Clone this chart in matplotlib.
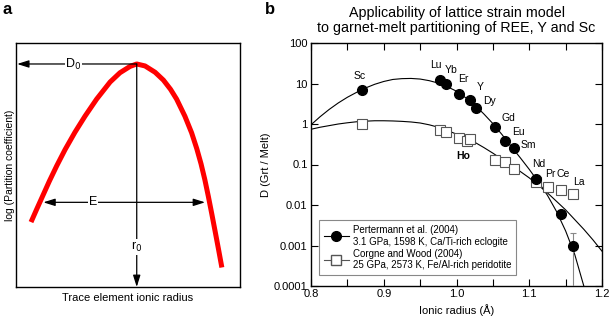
import matplotlib
matplotlib.use("Agg")
import matplotlib.pyplot as plt

plt.rcParams['font.family'] = ['Liberation Sans', 'DejaVu Sans']

# ---------------- data ----------------
# panel a: schematic lattice-strain curve (axes-fraction units)
schem_x = [0.067, 0.092, 0.119, 0.149, 0.182, 0.219, 0.263, 0.308, 0.360, 0.420,
           0.464, 0.509, 0.539, 0.576, 0.621, 0.658, 0.690, 0.717, 0.754, 0.784,
           0.807, 0.826, 0.843, 0.859, 0.874, 0.889, 0.904, 0.919]
schem_y = [0.266, 0.318, 0.373, 0.434, 0.497, 0.563, 0.634, 0.700, 0.770, 0.840,
           0.878, 0.904, 0.914, 0.906, 0.880, 0.848, 0.810, 0.770, 0.700, 0.632,
           0.567, 0.505, 0.440, 0.370, 0.300, 0.228, 0.155, 0.080]
peak_x, peak_y = 0.539, 0.914
E_left, E_right, E_y = 0.122, 0.844, 0.347

# panel b: Pertermann et al. (2004)
pert_el = ['Sc', 'Lu', 'Yb', 'Er', 'Y', 'Dy', 'Gd', 'Eu', 'Sm', 'Nd', 'Ce', 'La']
pert_r = [0.870, 0.977, 0.985, 1.004, 1.019, 1.027, 1.053, 1.066, 1.079, 1.109, 1.143, 1.160]
pert_D = [7.1, 12.0, 9.6, 5.6, 3.9, 2.5, 0.83, 0.37, 0.25, 0.045, 0.006, 0.001]
pert_err_hi = [0, 0, 0, 0, 0, 0, 0, 0, 0, 0, 0, 0.001]
pert_err_lo = [0, 0, 0, 0, 0, 0, 0, 0, 0, 0, 0, 0.000999]

# panel b: Corgne and Wood (2004)
corg_el = ['Sc', 'Lu', 'Yb', 'Er', 'Ho', 'Y', 'Gd', 'Eu', 'Sm', 'Nd', 'Pr', 'Ce', 'La']
corg_r = [0.870, 0.977, 0.985, 1.004, 1.015, 1.019, 1.053, 1.066, 1.079, 1.109, 1.126, 1.143, 1.160]
corg_D = [1.0, 0.72, 0.63, 0.45, 0.37, 0.43, 0.13, 0.115, 0.078, 0.037, 0.028, 0.023, 0.019]

# model fit curves (log10 D)
fit_r = [0.8000, 0.8125, 0.8250, 0.8375, 0.8500, 0.8625, 0.8750, 0.8875, 0.9000,
         0.9125, 0.9250, 0.9375, 0.9500, 0.9625, 0.9750, 0.9875, 1.0000, 1.0125,
         1.0250, 1.0375, 1.0500, 1.0625, 1.0750, 1.0875, 1.1000, 1.1125, 1.1250,
         1.1375, 1.1500, 1.1625, 1.1750, 1.1875, 1.2000]
pert_fit_logD = [-0.02, 0.18, 0.36, 0.52, 0.66, 0.78, 0.89, 0.98, 1.05,
                 1.10, 1.12, 1.125, 1.11, 1.07, 1.01, 0.92, 0.81, 0.65,
                 0.47, 0.25, 0.01, -0.26, -0.55, -0.83, -1.12, -1.43, -1.76,
                 -2.16, -2.64, -3.22, -4.00, -4.80, -5.60]
corg_fit_logD = [-0.13, -0.08, -0.04, 0.00, 0.03, 0.055, 0.07, 0.08, 0.08,
                 0.075, 0.065, 0.05, 0.025, -0.02, -0.08, -0.16, -0.25, -0.35,
                 -0.45, -0.58, -0.72, -0.87, -1.02, -1.17, -1.33, -1.51, -1.70,
                 -1.91, -2.12, -2.36, -2.60, -2.86, -3.14]

# ---------------- figure ----------------
fig = plt.figure(figsize=(6.09, 3.22), dpi=100)

# ---- panel a ----
axa = fig.add_axes([16/609, 35/322, 224/609, 244/322])
axa.set_xlim(0, 1)
axa.set_ylim(0, 1)
axa.set_xticks([])
axa.set_yticks([])
for s in axa.spines.values():
    s.set_linewidth(1.0)
axa.plot(schem_x, schem_y, color='#ff0000', lw=3.6, solid_capstyle='butt',
         solid_joinstyle='round', zorder=3)

arrow_kw = dict(arrowstyle='-|>,head_length=0.7,head_width=0.22', color='black', lw=0.9,
                shrinkA=0, shrinkB=0)
# D0 arrow
axa.annotate('', xy=(0.005, peak_y), xytext=(peak_x, peak_y), arrowprops=arrow_kw)
axa.text(0.256, peak_y, r'D$_0$', ha='center', va='center', fontsize=9,
         bbox=dict(facecolor='white', edgecolor='none', pad=0.5))
# r0 arrow
axa.annotate('', xy=(peak_x, 0.0), xytext=(peak_x, peak_y), arrowprops=arrow_kw)
axa.text(peak_x, 0.165, r'r$_0$', ha='center', va='center', fontsize=9,
         bbox=dict(facecolor='white', edgecolor='none', pad=0.5))
# E double arrow
axa.annotate('', xy=(E_left, E_y), xytext=(E_right, E_y),
             arrowprops=dict(arrowstyle='<|-|>,head_length=0.7,head_width=0.22',
                             color='black', lw=0.9, shrinkA=0, shrinkB=0))
axa.text(0.345, E_y, 'E', ha='center', va='center', fontsize=9,
         bbox=dict(facecolor='white', edgecolor='none', pad=0.5))
axa.set_xlabel('Trace element ionic radius', fontsize=8, labelpad=4)
axa.set_ylabel('log (Partition coefficient)', fontsize=7.5, labelpad=1)

fig.text(7/609, 1 - 9/322, 'a', fontsize=12, fontweight='bold', ha='center', va='center')
fig.text(270/609, 1 - 9/322, 'b', fontsize=12, fontweight='bold', ha='center', va='center')

# ---- panel b ----
axb = fig.add_axes([311/609, 36/322, 291/609, 243/322])
axb.set_yscale('log')
axb.set_xlim(0.8, 1.2)
axb.set_ylim(1e-4, 100)

axb.plot(fit_r, [10 ** v for v in pert_fit_logD], color='black', lw=0.8, zorder=2)
axb.plot(fit_r, [10 ** v for v in corg_fit_logD], color='black', lw=0.8, zorder=2)

axb.errorbar(pert_r, pert_D, yerr=[pert_err_lo, pert_err_hi], fmt='none',
             ecolor='#888888', elinewidth=0.8, capsize=2, capthick=0.8, zorder=3)
axb.plot(corg_r, corg_D, ls='none', marker='s', ms=6.5, mfc='white', mec='#555555',
         mew=0.8, zorder=4)
axb.plot(pert_r, pert_D, ls='none', marker='o', ms=7, mfc='black', mec='black', zorder=5)

# legend proxies
h1, = axb.plot([], [], color='black', lw=0.8, marker='o', ms=7, mfc='black')
h2, = axb.plot([], [], color='#555555', lw=0.8, marker='s', ms=6.5, mfc='white', mec='#555555')
leg = axb.legend([h1, h2],
                 ['Pertermann et al. (2004)\n3.1 GPa, 1598 K, Ca/Ti-rich eclogite',
                  'Corgne and Wood (2004)\n25 GPa, 2573 K, Fe/Al-rich peridotite'],
                 loc='lower left', bbox_to_anchor=(0.027, 0.045), fontsize=7,
                 frameon=True, fancybox=False, edgecolor='#888888', framealpha=1,
                 handlelength=2.6, handletextpad=0.4, borderpad=0.5, labelspacing=0.2,
                 borderaxespad=0)
leg.get_frame().set_linewidth(0.8)

# element labels (offsets in pixels)
label_off = {
    'Sc': ('p', -2, 14), 'Lu': ('p', -4, 15), 'Yb': ('p', 6, 14), 'Er': ('p', 4, 15),
    'Y': ('p', 10, 13), 'Dy': ('p', 13, 7), 'Gd': ('p', 13, 9), 'Eu': ('p', 14, 9),
    'Sm': ('p', 14, 3), 'Nd': ('p', 3, 15),
    'Pr': ('c', 2, 13), 'Ce': ('c', 3, 16), 'La': ('c', 6, 12), 'Ho': ('c', -4, -15),
}
for el, (src, dx, dy) in label_off.items():
    if src == 'p':
        i = pert_el.index(el)
        xy = (pert_r[i], pert_D[i])
    else:
        i = corg_el.index(el)
        xy = (corg_r[i], corg_D[i])
    axb.annotate(el, xy, xytext=(dx, dy), textcoords='offset pixels', ha='center',
                 va='center', fontsize=7.5,
                 fontweight='bold' if el == 'Ho' else 'normal', zorder=6)

axb.set_xticks([0.8, 0.9, 1.0, 1.1, 1.2])
axb.set_xticks([0.85, 0.95, 1.05, 1.15], minor=True)
axb.set_xticklabels(['0.8', '0.9', '1.0', '1.1', '1.2'])
yt = [1e-4, 1e-3, 1e-2, 1e-1, 1, 10, 100]
axb.set_yticks(yt)
axb.set_yticklabels(['0.0001', '0.001', '0.01', '0.1', '1', '10', '100'])
axb.yaxis.set_minor_locator(matplotlib.ticker.NullLocator())
axb.tick_params(which='both', direction='in', top=True, right=True, labelsize=8,
                width=0.8, pad=2.5)
axb.tick_params(which='major', length=5)
axb.tick_params(which='minor', length=5)
for s in axb.spines.values():
    s.set_linewidth(1.0)

axb.set_xlabel('Ionic radius (Å)', fontsize=8, labelpad=3)
axb.set_ylabel('D (Grt / Melt)', fontsize=8, labelpad=2)
axb.set_title('Applicability of lattice strain model\nto garnet-melt partitioning of REE, Y and Sc',
              fontsize=10.3, pad=8, linespacing=1.1)

fig.savefig('out.png', dpi=100)
